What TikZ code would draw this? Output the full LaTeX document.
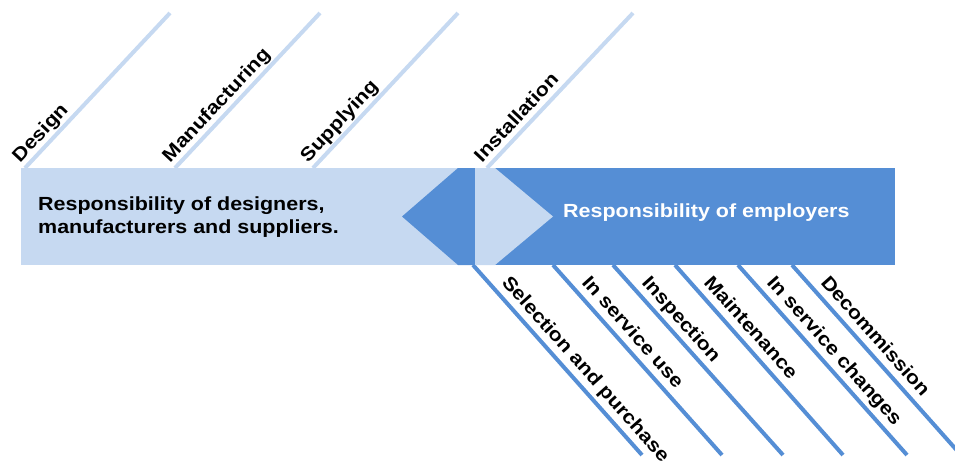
\documentclass[tikz,border=0pt]{standalone}
\usepackage{fontspec}
\setmainfont{Liberation Sans}
\newfontfamily\diagfont{Liberation Sans}[FakeStretch=1.13]
\usetikzlibrary{calc}
\definecolor{paleblue}{HTML}{C6D9F1}
\definecolor{midblue}{HTML}{558ED5}
\begin{document}
\begin{tikzpicture}[x=1pt,y=-1pt,
  stagelabel/.style={font=\diagfont\bfseries\fontsize{19}{22}\selectfont, inner sep=0pt, anchor=base west},
  upstage/.style={stagelabel, rotate=46.9},
  downstage/.style={stagelabel, rotate=-48.3},
  upline/.style={draw=paleblue, line width=4pt},
  downline/.style={draw=midblue, line width=4pt},
  bandtext/.style={font=\diagfont\bfseries\fontsize{19}{23}\selectfont, inner sep=0pt, anchor=west, align=left},
]
\useasboundingbox (0,0) rectangle (955,466);
\clip (0,0) rectangle (955,466);

% stages before the hand-over, rising from the top edge of the band
\foreach \n/\xs/\xe/\txt in {design/25/170/Design, manuf/175/320/Manufacturing,
    supply/313/458/Supplying, install/487/633/Installation} {
  \coordinate (\n-s) at (\xs,168);
  \coordinate (\n-e) at (\xe,13);
  \draw[upline] (\n-s) -- (\n-e);
  \node[upstage] (\n) at ($(\n-s)+(-5.1,-4.8)$) {\txt};
}

% stages in the employer's hands, falling from the bottom edge of the band
\foreach \n/\xs/\xe/\txt in {select/473/642/Selection and purchase, use/553/722/In service use,
    inspect/613/783/Inspection, maint/675/843/Maintenance,
    change/738/907/In service changes, decom/792/961/Decommission} {
  \coordinate (\n-s) at (\xs,265);
  \coordinate (\n-e) at (\xe,455);
  \draw[downline] (\n-s) -- (\n-e);
  \node[downstage] (\n) at ($(\n-s)+(28,18)$) {\txt};
}

% the band: designers' part on the left, employers' part on the right
\fill[paleblue] (21,168) rectangle (475,265);
\fill[midblue] (458,168) -- (475,168) -- (475,265) -- (458,265) -- (402,216.5) -- cycle;
\fill[midblue] (475,168) rectangle (895,265);
\fill[paleblue] (475,168) -- (495,168) -- (553,216.5) -- (495,265) -- (475,265) -- cycle;

\node[bandtext] (designers) at (38,217) {Responsibility of designers,\\manufacturers and suppliers.};
\node[bandtext, text=white] (employers) at (563,213) {Responsibility of employers};
\end{tikzpicture}
\end{document}
